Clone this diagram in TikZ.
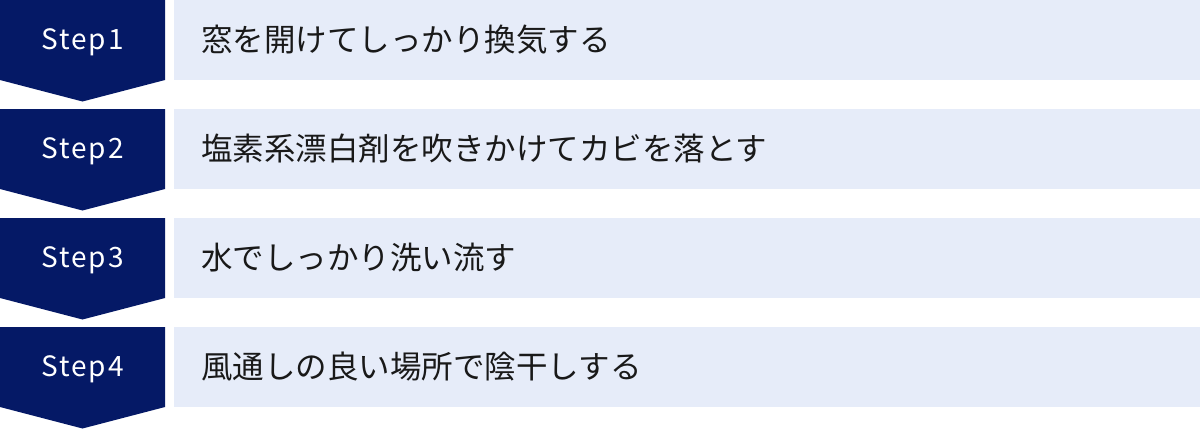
\documentclass[tikz,border=0pt]{standalone}
\usepackage{fontspec}
\newfontfamily\jpfont{Noto Sans CJK JP}
\newfontfamily\stepfont[LetterSpace=7]{Noto Sans CJK JP}
\definecolor{navy}{HTML}{051966}
\definecolor{pale}{HTML}{E6ECF9}
\tikzset{
  stepshape/.style={fill=navy, draw=none},
  barshape/.style={fill=pale, draw=none},
  steplabel/.style={text=white, inner sep=0pt, font=\stepfont\fontsize{28}{28}\selectfont},
  barlabel/.style={text=black!90, inner sep=0pt, anchor=west, font=\jpfont\fontsize{31.5}{31.5}\selectfont}
}
\begin{document}
\begin{tikzpicture}[x=1pt,y=-1pt]
\useasboundingbox (0,0) rectangle (1200,429);
\foreach \n/\t in {1/窓を開けてしっかり換気する,2/塩素系漂白剤を吹きかけてカビを落とす,3/水でしっかり洗い流す,4/風通しの良い場所で陰干しする}{
  \pgfmathsetmacro\yy{109*(\n-1)}
  \fill[stepshape] (0,\yy) -- (165,\yy) -- (165,\yy+80) -- (82.5,\yy+101.5) -- (0,\yy+80) -- cycle;
  \fill[barshape] (174,\yy) rectangle (1200,\yy+80);
  \node[steplabel] (s\n) at (82.5,\yy+42.5) {Step\n};
  \node[barlabel] (t\n) at (201,\yy+40) {\t};
}
\end{tikzpicture}
\end{document}
